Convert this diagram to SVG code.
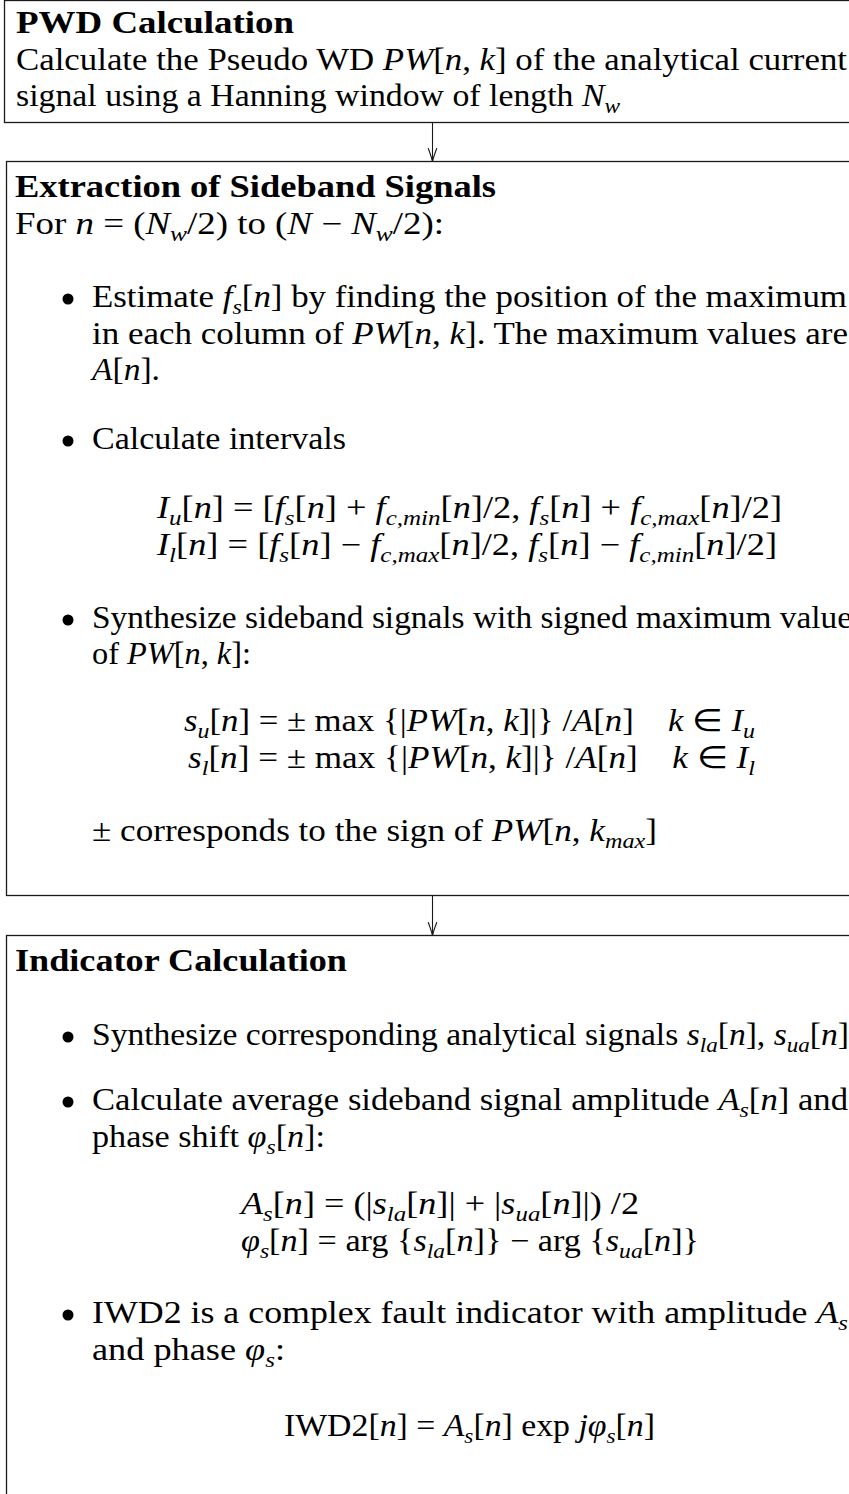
<svg xmlns="http://www.w3.org/2000/svg" width="849" height="1494" viewBox="0 0 849 1494">
<style>
text { font-family: "Liberation Serif", "Times New Roman", serif; font-size: 30.5px; fill: #000; }
.b { font-weight: bold; }
.i { font-style: italic; }
.s { font-size: 21px; }
.box { fill: #fff; stroke: #1a1a1a; stroke-width: 1.3; }
.conn { stroke: #1a1a1a; stroke-width: 1.1; fill: none; }
.ah { stroke: #1a1a1a; stroke-width: 1.1; fill: none; stroke-linecap: round; }
.dot { fill: #000; }
</style>
<defs>
<marker id="arr" markerUnits="userSpaceOnUse" markerWidth="20" markerHeight="20" refX="0" refY="0" orient="auto" overflow="visible">
<path class="ah" d="M-13,-4.2 Q-5,-1.2 0,0 Q-5,1.2 -13,4.2"/>
</marker>
</defs>
<rect width="849" height="1494" fill="#fff"/>

<g id="pwd">
<rect class="box" x="4.5" y="0.5" width="880" height="122"/>
<text class="b" x="16" y="33" textLength="278" lengthAdjust="spacingAndGlyphs">PWD Calculation</text>
<text x="16" y="70" textLength="831" lengthAdjust="spacingAndGlyphs">Calculate the Pseudo WD <tspan class="i">PW</tspan>[<tspan class="i">n</tspan>, <tspan class="i">k</tspan>] of the analytical current</text>
<text x="16" y="106" textLength="604" lengthAdjust="spacingAndGlyphs">signal using a Hanning window of length <tspan class="i">N</tspan><tspan class="s i" dy="7">w</tspan></text>
</g>

<g id="extraction">
<rect class="box" x="6.5" y="161.5" width="880" height="734"/>
<text class="b" x="15" y="197" textLength="481" lengthAdjust="spacingAndGlyphs">Extraction of Sideband Signals</text>
<text x="15" y="234" textLength="429" lengthAdjust="spacingAndGlyphs">For <tspan class="i">n</tspan> = (<tspan class="i">N</tspan><tspan class="s i" dy="7">w</tspan><tspan dy="-7">/2) to (</tspan><tspan class="i">N</tspan> − <tspan class="i">N</tspan><tspan class="s i" dy="7">w</tspan><tspan dy="-7">/2):</tspan></text>
<circle class="dot" cx="68" cy="299" r="5.5"/>
<text x="92" y="307" textLength="755" lengthAdjust="spacingAndGlyphs">Estimate <tspan class="i">f</tspan><tspan class="s i" dy="7">s</tspan><tspan dy="-7">[</tspan><tspan class="i">n</tspan>] by finding the position of the maximum</text>
<text x="92" y="344" textLength="756" lengthAdjust="spacingAndGlyphs">in each column of <tspan class="i">PW</tspan>[<tspan class="i">n</tspan>, <tspan class="i">k</tspan>]. The maximum values are</text>
<text x="92" y="380" textLength="68" lengthAdjust="spacingAndGlyphs"><tspan class="i">A</tspan>[<tspan class="i">n</tspan>].</text>
<circle class="dot" cx="68" cy="441" r="5.5"/>
<text x="92" y="449" textLength="254" lengthAdjust="spacingAndGlyphs">Calculate intervals</text>
<text x="157" y="518" textLength="625" lengthAdjust="spacingAndGlyphs"><tspan class="i">I</tspan><tspan class="s i" dy="7">u</tspan><tspan dy="-7">[</tspan><tspan class="i">n</tspan>] = [<tspan class="i">f</tspan><tspan class="s i" dy="7">s</tspan><tspan dy="-7">[</tspan><tspan class="i">n</tspan>] + <tspan class="i">f</tspan><tspan class="s i" dy="7">c,min</tspan><tspan dy="-7">[</tspan><tspan class="i">n</tspan>]/2, <tspan class="i">f</tspan><tspan class="s i" dy="7">s</tspan><tspan dy="-7">[</tspan><tspan class="i">n</tspan>] + <tspan class="i">f</tspan><tspan class="s i" dy="7">c,max</tspan><tspan dy="-7">[</tspan><tspan class="i">n</tspan>]/2]</text>
<text x="157" y="555" textLength="620" lengthAdjust="spacingAndGlyphs"><tspan class="i">I</tspan><tspan class="s i" dy="7">l</tspan><tspan dy="-7">[</tspan><tspan class="i">n</tspan>] = [<tspan class="i">f</tspan><tspan class="s i" dy="7">s</tspan><tspan dy="-7">[</tspan><tspan class="i">n</tspan>] − <tspan class="i">f</tspan><tspan class="s i" dy="7">c,max</tspan><tspan dy="-7">[</tspan><tspan class="i">n</tspan>]/2, <tspan class="i">f</tspan><tspan class="s i" dy="7">s</tspan><tspan dy="-7">[</tspan><tspan class="i">n</tspan>] − <tspan class="i">f</tspan><tspan class="s i" dy="7">c,min</tspan><tspan dy="-7">[</tspan><tspan class="i">n</tspan>]/2]</text>
<circle class="dot" cx="68" cy="620" r="5.5"/>
<text x="92" y="628" textLength="760" lengthAdjust="spacingAndGlyphs">Synthesize sideband signals with signed maximum value</text>
<text x="92" y="664" textLength="159" lengthAdjust="spacingAndGlyphs">of <tspan class="i">PW</tspan>[<tspan class="i">n</tspan>, <tspan class="i">k</tspan>]:</text>
<text x="184" y="731" textLength="571" lengthAdjust="spacingAndGlyphs"><tspan class="i">s</tspan><tspan class="s i" dy="7">u</tspan><tspan dy="-7">[</tspan><tspan class="i">n</tspan>] = ± max {|<tspan class="i">PW</tspan>[<tspan class="i">n</tspan>, <tspan class="i">k</tspan>]|} /<tspan class="i">A</tspan>[<tspan class="i">n</tspan>]<tspan class="i" dx="30">k</tspan> ∈ <tspan class="i">I</tspan><tspan class="s i" dy="7">u</tspan></text>
<text x="188" y="768" textLength="567" lengthAdjust="spacingAndGlyphs"><tspan class="i">s</tspan><tspan class="s i" dy="7">l</tspan><tspan dy="-7">[</tspan><tspan class="i">n</tspan>] = ± max {|<tspan class="i">PW</tspan>[<tspan class="i">n</tspan>, <tspan class="i">k</tspan>]|} /<tspan class="i">A</tspan>[<tspan class="i">n</tspan>]<tspan class="i" dx="30">k</tspan> ∈ <tspan class="i">I</tspan><tspan class="s i" dy="7">l</tspan></text>
<text x="92" y="841" textLength="565" lengthAdjust="spacingAndGlyphs">± corresponds to the sign of <tspan class="i">PW</tspan>[<tspan class="i">n</tspan>, <tspan class="i">k</tspan><tspan class="s i" dy="7">max</tspan><tspan dy="-7">]</tspan></text>
</g>

<g id="indicator">
<rect class="box" x="6.5" y="935.5" width="880" height="620"/>
<text class="b" x="15" y="971" textLength="332" lengthAdjust="spacingAndGlyphs">Indicator Calculation</text>
<circle class="dot" cx="68" cy="1037" r="5.5"/>
<text x="92" y="1045" textLength="757" lengthAdjust="spacingAndGlyphs">Synthesize corresponding analytical signals <tspan class="i">s</tspan><tspan class="s i" dy="7">la</tspan><tspan dy="-7">[</tspan><tspan class="i">n</tspan>], <tspan class="i">s</tspan><tspan class="s i" dy="7">ua</tspan><tspan dy="-7">[</tspan><tspan class="i">n</tspan>]</text>
<circle class="dot" cx="68" cy="1102" r="5.5"/>
<text x="92" y="1110" textLength="756" lengthAdjust="spacingAndGlyphs">Calculate average sideband signal amplitude <tspan class="i">A</tspan><tspan class="s i" dy="7">s</tspan><tspan dy="-7">[</tspan><tspan class="i">n</tspan>] and</text>
<text x="92" y="1147" textLength="233" lengthAdjust="spacingAndGlyphs">phase shift <tspan class="i">φ</tspan><tspan class="s i" dy="7">s</tspan><tspan dy="-7">[</tspan><tspan class="i">n</tspan>]:</text>
<text x="241" y="1214" textLength="398" lengthAdjust="spacingAndGlyphs"><tspan class="i">A</tspan><tspan class="s i" dy="7">s</tspan><tspan dy="-7">[</tspan><tspan class="i">n</tspan>] = (|<tspan class="i">s</tspan><tspan class="s i" dy="7">la</tspan><tspan dy="-7">[</tspan><tspan class="i">n</tspan>]| + |<tspan class="i">s</tspan><tspan class="s i" dy="7">ua</tspan><tspan dy="-7">[</tspan><tspan class="i">n</tspan>]|) /2</text>
<text x="241" y="1251" textLength="458" lengthAdjust="spacingAndGlyphs"><tspan class="i">φ</tspan><tspan class="s i" dy="7">s</tspan><tspan dy="-7">[</tspan><tspan class="i">n</tspan>] = arg {<tspan class="i">s</tspan><tspan class="s i" dy="7">la</tspan><tspan dy="-7">[</tspan><tspan class="i">n</tspan>]} − arg {<tspan class="i">s</tspan><tspan class="s i" dy="7">ua</tspan><tspan dy="-7">[</tspan><tspan class="i">n</tspan>]}</text>
<circle class="dot" cx="68" cy="1315" r="5.5"/>
<text x="92" y="1323" textLength="756" lengthAdjust="spacingAndGlyphs">IWD2 is a complex fault indicator with amplitude <tspan class="i">A</tspan><tspan class="s i" dy="7">s</tspan></text>
<text x="92" y="1360" textLength="193" lengthAdjust="spacingAndGlyphs">and phase <tspan class="i">φ</tspan><tspan class="s i" dy="7">s</tspan><tspan dy="-7">:</tspan></text>
<text x="284" y="1436" textLength="371" lengthAdjust="spacingAndGlyphs">IWD2[<tspan class="i">n</tspan>] = <tspan class="i">A</tspan><tspan class="s i" dy="7">s</tspan><tspan dy="-7">[</tspan><tspan class="i">n</tspan>] exp <tspan class="i">jφ</tspan><tspan class="s i" dy="7">s</tspan><tspan dy="-7">[</tspan><tspan class="i">n</tspan>]</text>
</g>

<g id="connectors">
<path class="conn" d="M432.5,122.5 L432.5,161.5" marker-end="url(#arr)"/>
<path class="conn" d="M432.5,895.5 L432.5,935.5" marker-end="url(#arr)"/>
</g>
</svg>
